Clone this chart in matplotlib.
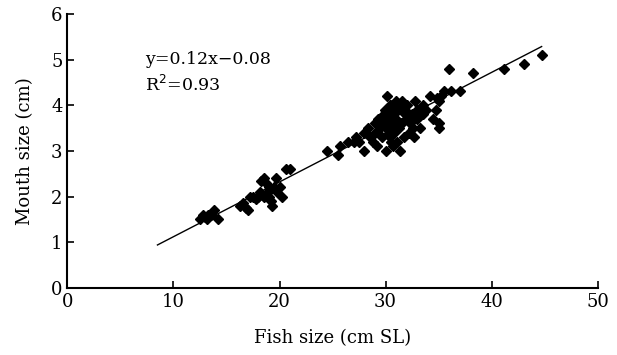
import numpy as np
import matplotlib
matplotlib.use("Agg")
from matplotlib import pyplot as plt

# Fish size (cm SL) vs mouth size (cm)
fish_size = [
    12.5, 12.8, 13.0, 13.2, 13.3, 13.5, 13.8, 14.2,
    16.3, 16.6, 16.8, 17.0, 17.2, 17.5, 17.8, 18.0, 18.2, 18.3, 18.5, 18.5,
    18.7, 18.9, 19.0, 19.0, 19.2, 19.3, 19.5, 19.7, 19.8, 20.0, 20.2, 20.6, 21.0,
    24.5, 25.5, 25.7, 26.5, 27.0, 27.2, 27.5, 28.0, 28.0, 28.3, 28.5, 28.8,
    29.0, 29.0, 29.2, 29.3, 29.5, 29.6, 29.7, 29.8, 29.9, 30.0, 30.0, 30.0,
    30.1, 30.2, 30.2, 30.3, 30.3, 30.4, 30.4, 30.5, 30.5, 30.6, 30.6, 30.7,
    30.7, 30.8, 30.9, 31.0, 31.0, 31.0, 31.1, 31.2, 31.3, 31.4, 31.5, 31.5,
    31.6, 31.7, 31.8, 31.8, 32.0, 32.0, 32.2, 32.3, 32.5, 32.6, 32.7, 32.8,
    33.0, 33.0, 33.2, 33.5, 33.5, 33.8, 34.2, 34.5, 34.7, 34.8, 35.0, 35.0,
    35.0, 35.2, 35.5, 36.0, 36.2, 37.0, 38.2, 41.2, 43.0, 44.7,
]
mouth_size = [
    1.50, 1.60, 1.55, 1.50, 1.60, 1.60, 1.70, 1.50,
    1.80, 1.85, 1.75, 1.70, 2.00, 2.00, 1.95, 2.00, 2.10, 2.35, 2.40, 2.00,
    2.30, 2.10, 2.00, 2.20, 1.90, 1.80, 2.20, 2.40, 2.10, 2.20, 2.00, 2.60, 2.60,
    3.00, 2.90, 3.10, 3.20, 3.20, 3.30, 3.20, 3.00, 3.40, 3.50, 3.30, 3.20,
    3.40, 3.60, 3.10, 3.70, 3.50, 3.60, 3.30, 3.80, 3.90, 3.00, 3.70, 3.50,
    4.20, 3.50, 3.80, 3.90, 3.40, 3.30, 4.00, 3.60, 3.20, 4.00, 3.70, 3.80,
    3.10, 3.40, 3.60, 3.70, 4.10, 3.50, 3.20, 3.90, 3.50, 3.00, 3.60, 4.10,
    4.00, 3.30, 3.80, 3.90, 3.70, 4.00, 3.40, 3.60, 3.80, 3.50, 3.30, 4.10,
    3.70, 3.90, 3.50, 4.00, 3.80, 3.90, 4.20, 3.70, 3.90, 4.15, 3.50, 3.60,
    4.10, 4.20, 4.30, 4.80, 4.30, 4.30, 4.70, 4.80, 4.90, 5.10,
]

# regression shown on the chart
fit_slope = 0.12
fit_intercept = -0.08
fit_range = [8.5, 44.7]

x_ticks = [0, 10, 20, 30, 40, 50]
y_ticks = [0, 1, 2, 3, 4, 5, 6]

plt.rcParams['font.family'] = ['DejaVu Serif']

fig = plt.figure(figsize=(6.17, 3.55), dpi=100)
ax = fig.add_axes([0.109, 0.189, 0.86, 0.772])

fx = np.array(fit_range)
ax.plot(fx, fit_slope * fx + fit_intercept, color='black', lw=1.0, zorder=2)
ax.plot(fish_size, mouth_size, 'D', color='black', markersize=5, zorder=3)

ax.set_xlim(0, 50)
ax.set_ylim(0, 6)
ax.set_xticks(x_ticks)
ax.set_yticks(y_ticks)
ax.tick_params(direction='in', length=5, width=1.2, labelsize=13)
for s in ['top', 'right']:
    ax.spines[s].set_visible(False)
for s in ['left', 'bottom']:
    ax.spines[s].set_linewidth(1.5)

ax.set_xlabel('Fish size (cm SL)', fontsize=13, labelpad=13)
ax.set_ylabel('Mouth size (cm)', fontsize=13, labelpad=12)

ax.text(7.3, 5.0, 'y=0.12x\u22120.08', fontsize=12.5, va='center')
ax.text(7.3, 4.45, 'R$^2$=0.93', fontsize=12.5, va='center')

plt.savefig("out.png")
